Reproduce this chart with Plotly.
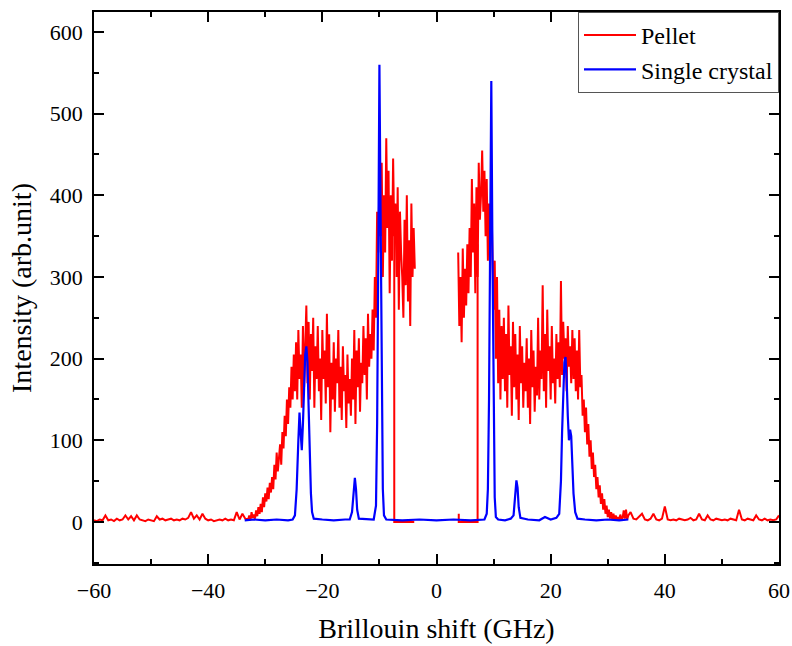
import plotly.graph_objects as go

# ---------------- Pellet (red) ----------------
# left baseline: start -60, step 0.5
pellet_base_left_start = -60.0
pellet_base_left_step = 0.5
pellet_base_left = [2, 1, 3, 2, 8, 2, 3, 1, 4, 2, 3, 8, 3, 7, 2, 8, 3, 2, 1, 3,
                    2, 1, 7, 3, 4, 2, 3, 4, 2, 3, 2, 4, 3, 5, 12, 4, 8, 3, 10, 4,
                    2, 3, 1, 2, 3, 2, 4, 2, 3, 2, 12, 3, 10, 4]

# left band: start -33.0, step 0.2
pellet_left_start = -33.0
pellet_left_step = 0.2
pellet_left = [3, 8, 2, 12, 5, 9, 4, 14, 7, 18, 10,
               22, 12, 30, 18, 35, 25, 42, 28, 48, 36,
               55, 40, 70, 52, 85, 62, 78, 95, 70, 110,
               90, 130, 105, 150, 120, 165, 140, 190, 150, 205,
               160, 220, 150, 235, 175, 205, 140, 240, 165, 225,
               265, 170, 245, 150, 230, 185, 250, 140, 215, 175,
               240, 160, 200, 125, 235, 175, 210, 145, 255, 165,
               230, 110, 195, 150, 220, 135, 200, 170, 235, 140,
               190, 125, 215, 160, 180, 115, 205, 145, 175, 130,
               200, 150, 235, 120, 210, 165, 225, 135, 195, 170,
               240, 180, 225, 150, 255, 190, 230, 200, 260, 210,
               300, 250, 380, 330, 420, 350, 440, 300, 400, 330,
               470, 360, 430, 280, 400, 320, 445, 350, 390, 300,
               410, 260, 380, 330, 300, 250, 370, 290, 400, 270,
               345, 240, 390, 300, 360, 310]

# central drop segments (x, y)
pellet_drop_left_x = [-7.4, -7.4, -3.9]
pellet_drop_left_y = [380, 0, 0]
pellet_drop_right_x = [3.9, 3.9, 3.9, 7.2, 7.2]
pellet_drop_right_y = [0, 10, 0, 0, 340]

# right band: start 3.8, step 0.2
pellet_right_start = 3.8
pellet_right_step = 0.2
pellet_right = [330, 240, 300, 220, 335, 250, 310, 265, 340, 280,
                360, 300, 420, 330, 390, 280, 410, 300, 440, 370,
                400, 455, 380, 430, 350, 420, 320, 390, 340, 400,
                330, 260, 320, 200, 300, 170, 260, 150, 240, 175,
                250, 160, 230, 140, 265, 180, 215, 130, 245, 165,
                230, 150, 205, 125, 240, 170, 215, 140, 195, 160,
                225, 140, 200, 120, 235, 165, 210, 135, 190, 155,
                250, 150, 210, 175, 290, 160, 230, 140, 260, 185,
                215, 150, 240, 170, 200, 145, 230, 175, 220, 165,
                295, 180, 245, 200, 225, 160, 240, 190, 215, 170,
                235, 175, 225, 160, 210, 150, 235, 165, 180, 130,
                150, 110, 140, 95, 120, 80, 100, 65, 85, 55,
                70, 40, 55, 30, 45, 22, 35, 15, 28, 10,
                20, 6, 15, 4, 12, 3, 10, 2, 8, 3,
                6, 2, 9, 3, 5, 14, 4, 15, 3, 8]

# right baseline: start 34.0, step 0.5
pellet_base_right_start = 34.0
pellet_base_right_step = 0.5
pellet_base_right = [12, 4, 3, 6, 10, 3, 2, 4, 10, 3, 2, 4, 19, 3, 2, 3, 2, 4, 3, 2,
                     3, 5, 2, 3, 10, 3, 2, 8, 3, 2, 4, 3, 2, 3, 2, 4, 3, 2, 15, 3,
                     2, 4, 3, 2, 8, 3, 2, 4, 2, 3, 2, 3, 8]

# ---------------- Single crystal (blue) ----------------
crystal_x = [-33.6, -32, -30, -28, -26, -25.2, -24.8, -24.5, -24.2, -24.0, -23.8, -23.6,
             -23.4, -23.2, -23.0, -22.8, -22.6, -22.4, -22.2, -22.0, -21.8, -21.5, -20,
             -18, -16, -15.2, -14.8, -14.5, -14.3, -14.1, -13.9, -13.6, -12, -11.0, -10.6,
             -10.4, -10.2, -10.0, -9.8, -9.6, -9.4, -9.2, -8.8, -6, -3, 0, 3, 6, 8.4, 8.8,
             9.0, 9.2, 9.4, 9.6, 9.8, 10.0, 10.2, 10.4, 10.8, 12, 13, 13.5, 13.8, 14.0,
             14.2, 14.4, 14.7, 16, 18, 19, 20, 21, 21.5, 21.8, 22.0, 22.2, 22.4, 22.6,
             22.8, 23.0, 23.2, 23.4, 23.6, 23.8, 24.0, 24.3, 24.7, 26, 28, 30, 32, 33.6]
crystal_y = [2, 3, 2, 3, 2, 3, 8, 40, 100, 134, 110, 88,
             120, 175, 205, 215, 195, 140, 80, 35, 12, 4, 3,
             2, 3, 3, 12, 35, 54, 40, 15, 4, 3, 3, 20,
             120, 320, 560, 380, 150, 40, 8, 3, 2, 3, 2, 3, 2, 3, 10,
             40, 150, 380, 540, 330, 120, 30, 6, 3, 2, 4, 8, 30, 51,
             42, 18, 5, 3, 2, 6, 3, 5, 10, 50, 110, 165, 195, 202,
             175, 130, 100, 113, 105, 70, 35, 12, 4, 3, 2, 3, 2, 3]


def seg(start, step, vals):
    return [start + step * i for i in range(len(vals))], list(vals)


red_x, red_y = [], []
for part in [seg(pellet_base_left_start, pellet_base_left_step, pellet_base_left),
             seg(pellet_left_start, pellet_left_step, pellet_left)]:
    red_x += part[0]
    red_y += part[1]
red_x += [None] + pellet_drop_left_x + [None] + pellet_drop_right_x + [None]
red_y += [None] + pellet_drop_left_y + [None] + pellet_drop_right_y + [None]
for part in [seg(pellet_right_start, pellet_right_step, pellet_right),
             seg(pellet_base_right_start, pellet_base_right_step, pellet_base_right)]:
    red_x += part[0]
    red_y += part[1]

FONT = "Liberation Serif"

fig = go.Figure()
fig.add_trace(go.Scatter(x=red_x, y=red_y, mode="lines", name="Pellet",
                         line=dict(color="#ff0000", width=2), connectgaps=False))
fig.add_trace(go.Scatter(x=crystal_x, y=crystal_y, mode="lines", name="Single crystal",
                         line=dict(color="#0000ff", width=2.2)))

axis_common = dict(showline=True, linecolor="black", linewidth=1.5, mirror="ticks",
                   ticks="inside", ticklen=10, tickwidth=1.5, tickcolor="black",
                   showgrid=False, zeroline=False, automargin=False,
                   tickfont=dict(family=FONT, size=22, color="black"))

fig.update_xaxes(range=[-60, 60], dtick=20, tick0=0,
                 minor=dict(dtick=10, ticks="inside", ticklen=5, tickwidth=1.5, tickcolor="black"),
                 title=dict(text="Brillouin shift (GHz)", font=dict(family=FONT, size=28, color="black"),
                            standoff=16),
                 ticklabelstandoff=6, **axis_common)
fig.update_yaxes(range=[-51.5, 624.5], dtick=100, tick0=0,
                 minor=dict(dtick=50, ticks="inside", ticklen=5, tickwidth=1.5, tickcolor="black"),
                 title=dict(text="Intensity (arb.unit)", font=dict(family=FONT, size=28, color="black"),
                            standoff=10),
                 ticklabelstandoff=5, **axis_common)

fig.update_layout(
    width=792, height=646,
    margin=dict(l=94, r=13, t=12, b=82),
    paper_bgcolor="white", plot_bgcolor="white",
    showlegend=True,
    legend=dict(x=1, xanchor="right", y=1, yanchor="top",
                bgcolor="white", bordercolor="#555555", borderwidth=1,
                font=dict(family=FONT, size=24, color="black"),
                tracegroupgap=0, itemwidth=52),
)

fig.write_html("out.html")
